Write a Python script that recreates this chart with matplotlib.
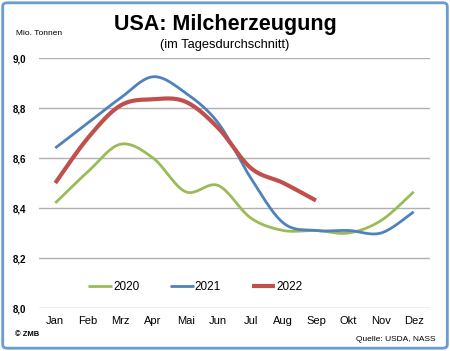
import numpy as np
import matplotlib
matplotlib.use("Agg")
import matplotlib.pyplot as plt
from matplotlib.patches import FancyBboxPatch

months = ["Jan", "Feb", "Mrz", "Apr", "Mai", "Jun", "Jul", "Aug", "Sep", "Okt", "Nov", "Dez"]
y2020 = [8.42, 8.545, 8.655, 8.60, 8.465, 8.49, 8.36, 8.31, 8.31, 8.30, 8.35, 8.465]
y2021 = [8.64, 8.74, 8.84, 8.925, 8.86, 8.74, 8.52, 8.34, 8.31, 8.31, 8.30, 8.385]
y2022 = [8.50, 8.68, 8.81, 8.835, 8.825, 8.72, 8.56, 8.50, 8.43]
yticks = [8.0, 8.2, 8.4, 8.6, 8.8, 9.0]
ytick_labels = ["8,0", "8,2", "8,4", "8,6", "8,8", "9,0"]

def smooth(ys, n=20):
    ys = np.asarray(ys, float)
    xs = np.arange(len(ys), dtype=float)
    P = np.concatenate([[ys[0]], ys, [ys[-1]]])
    X = np.concatenate([[xs[0]], xs, [xs[-1]]])
    ox, oy = [], []
    for i in range(1, len(P) - 2):
        t = np.linspace(0, 1, n, endpoint=False)
        for arr, out in ((X, ox), (P, oy)):
            p0, p1, p2, p3 = arr[i-1], arr[i], arr[i+1], arr[i+2]
            m1 = (p2 - p0) / 2
            m2 = (p3 - p1) / 2
            h00 = 2*t**3 - 3*t**2 + 1
            h10 = t**3 - 2*t**2 + t
            h01 = -2*t**3 + 3*t**2
            h11 = t**3 - t**2
            out.extend(h00*p1 + h10*m1 + h01*p2 + h11*m2)
    ox.append(xs[-1]); oy.append(ys[-1])
    return np.array(ox), np.array(oy)

fig = plt.figure(figsize=(4.5, 3.51), dpi=100)
border = FancyBboxPatch((0.006, 0.008), 0.988, 0.984, boxstyle="round,pad=0,rounding_size=0.01",
                        transform=fig.transFigure, fill=False, edgecolor="#6a9bd1", linewidth=2)
fig.patches.append(border)

ax = fig.add_axes([39/450, (351-308)/351, (430-39)/450, (308-58)/351])
x = np.arange(12)
for ys, col, lw, lab in ((y2020, "#9bbb59", 2.0, "2020"), (y2021, "#4f81bd", 2.0, "2021"), (y2022, "#c0504d", 3.0, "2022")):
    sx, sy = smooth(ys)
    ax.plot(sx, sy, color=col, lw=lw, label=lab, solid_capstyle="butt")

ax.set_xlim(-0.5, 11.5)
ax.set_ylim(8.0, 9.0)
ax.set_yticks(yticks)
ax.set_yticklabels(ytick_labels, fontsize=7, fontweight="bold", family="Liberation Sans")
ax.set_xticks(x)
ax.set_xticklabels(months, fontsize=8, family="Liberation Sans")
ax.tick_params(length=0, pad=6)
ax.tick_params(axis="y", pad=9)
for s in ax.spines.values():
    s.set_visible(False)
ax.grid(axis="y", color="#b0b0b0", lw=1)
ax.set_axisbelow(True)

leg = ax.legend(loc="center", bbox_to_anchor=(0.40, 0.085), ncol=3, frameon=False,
                prop={"family": "Liberation Sans", "size": 8.5}, handlelength=2.0, columnspacing=2.6, handletextpad=0.1)

fig.text(0.5, 0.93, "USA: Milcherzeugung", ha="center", va="center", fontsize=15.5, fontweight="bold", family="Liberation Sans")
fig.text(0.5, 0.872, "(im Tagesdurchschnitt)", ha="center", va="center", fontsize=9.3, family="Liberation Sans")
fig.text(0.035, 0.905, "Mio. Tonnen", ha="left", va="center", fontsize=6, family="Liberation Sans")
fig.text(0.033, 0.047, "© ZMB", ha="left", va="center", fontsize=5.5, fontweight="bold", family="Liberation Sans")
fig.text(0.968, 0.032, "Quelle: USDA, NASS", ha="right", va="center", fontsize=6, family="Liberation Sans")

fig.savefig("out.png", dpi=100)
